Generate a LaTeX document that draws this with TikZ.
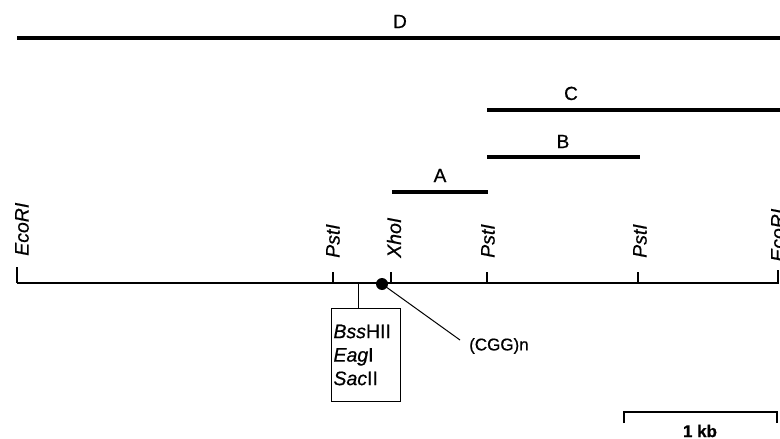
\documentclass[tikz,border=0pt]{standalone}
\usepackage{fontspec}
\setmainfont{Liberation Sans}[FakeBold=0.6]
\begin{document}
\begin{tikzpicture}[x=1pt,y=-1pt,
  lbl/.style={font=\fontsize{17}{20}\selectfont, inner sep=0pt},
  letter/.style={font=\fontsize{19}{22}\selectfont, inner sep=0pt, anchor=base},
  site/.style={inner sep=0pt, rotate=90, anchor=west, font=\fontsize{19.5}{22}\selectfont\itshape},
  clone/.style={line width=3.3pt},
  mapline/.style={line width=1.4pt},
  cutmark/.style={line width=1.2pt}]
\useasboundingbox (0,0) rectangle (780,439);

% physical map
\coordinate (L) at (17,283);
\coordinate (R) at (779,283);
\draw[mapline] (L) -- (R);

% restriction sites: tick and rotated label
\foreach \n/\x/\t/\h/\dx/\b in {e1/17/EcoRI/16/5/256, p1/333/PstI/11/0/258, x1/391/XhoI/11/3/258, p2/487/PstI/11/1/258, p3/638/PstI/11/2/258, e2/778/EcoRI/13/0/262}{
  \coordinate (\n) at (\x,283);
  \draw[cutmark] (\n) -- ++(0,-\h) coordinate (\n t);
  \node[site] at (\x+\dx,\b) {\t};
}

% clones with their letters
\draw[clone] (17,38) -- (780,38);
\node[letter] (D) at (400,28) {D};
\draw[clone] (487,110) -- (780,110);
\node[letter] (C) at (571,100) {C};
\draw[clone] (487,157) -- (640,157);
\node[letter] (B) at (563,148) {B};
\draw[clone] (392,192) -- (488,192);
\node[letter] (A) at (440,182) {A};

% CpG island box
\node[draw, line width=1pt, inner sep=2pt, align=left, anchor=north,
      font=\fontsize{19.5}{22}\selectfont,
      minimum width=69pt, minimum height=93pt, text width=64pt] (box) at (365.5,308)
  {\itshape Bss\upshape HII\\[1.5pt]\itshape Eag\upshape I\\[1.5pt]\itshape Sac\upshape II};
\coordinate (stem) at (358,283);
\draw[line width=1pt] (stem) -- (stem |- box.north);

% CGG repeat
\fill (382,284) circle (6pt) coordinate (dot);
\node[lbl, anchor=west] (cgg) at (469,346) {(CGG)n};
\draw[line width=1pt] (382,284) -- (460,340);

% scale bar
\coordinate (s1) at (624,412);
\coordinate (s2) at (777,412);
\draw[line width=1.6pt] ([yshift=-11pt]s1) -- (s1) -- (s2) -- ([yshift=-11pt]s2);
\node[lbl, font=\fontsize{17}{20}\selectfont\bfseries] (kb) at (700,431) {1 kb};
\end{tikzpicture}
\end{document}
